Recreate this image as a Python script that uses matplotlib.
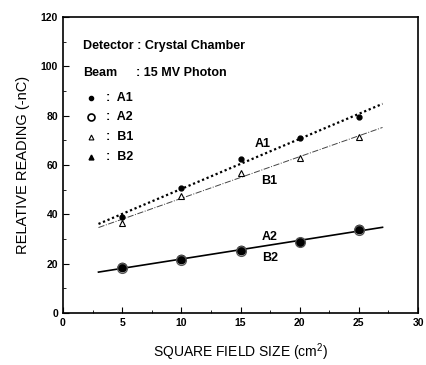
import numpy as np
import matplotlib
matplotlib.use("Agg")
import matplotlib.pyplot as plt
from matplotlib.ticker import MultipleLocator

plt.rcParams['font.family'] = ['Liberation Sans', 'DejaVu Sans']
plt.rcParams['mathtext.default'] = 'regular'

field = [5, 10, 15, 20, 25]
a1 = [39.0, 50.6, 62.3, 70.9, 79.6]
b1 = [36.6, 47.5, 56.6, 62.9, 71.2]
a2 = [18.4, 21.6, 25.3, 28.7, 33.8]
b2 = [18.6, 21.9, 25.5, 28.9, 34.0]
fit_range = [3, 27]

fig = plt.figure(figsize=(4.27, 3.65), dpi=100)
ax = fig.add_axes([0.1475, 0.1425, 0.8315, 0.8105])

xs = np.array(fit_range)
pa1 = np.polyfit(field, a1, 1)
pb1 = np.polyfit(field, b1, 1)
pa2 = np.polyfit(field + field, a2 + b2, 1)
ax.plot(xs, np.polyval(pa1, xs), color='black', ls=(0, (1, 1.2)), lw=1.6)
ax.plot(xs, np.polyval(pb1, xs), color='#444444', ls='-.', lw=0.7)
ax.plot(xs, np.polyval(pa2, xs), color='black', ls='-', lw=1.2)

ax.plot(field, a1, 'o', color='black', ms=3.5)
ax.plot(field, b1, '^', mfc='white', mec='black', ms=4, mew=0.8)
ax.plot(field, b2, 'o', color='black', ms=6)
ax.plot(field, a2, 'o', mfc='none', mec='#555555', ms=7, mew=1.0)

ax.set_xlim(0, 30)
ax.set_ylim(0, 120)
ax.xaxis.set_major_locator(MultipleLocator(5))
ax.xaxis.set_minor_locator(MultipleLocator(2.5))
ax.yaxis.set_major_locator(MultipleLocator(20))
ax.yaxis.set_minor_locator(MultipleLocator(10))
ax.tick_params(which='both', direction='in', top=False, right=False)
ax.tick_params(which='major', length=4, labelsize=7.5)
ax.tick_params(which='minor', length=2)
for lab in ax.get_xticklabels() + ax.get_yticklabels():
    lab.set_fontweight('bold')
for s in ax.spines.values():
    s.set_linewidth(1.2)

ax.set_xlabel('SQUARE FIELD SIZE (cm$^2$)', fontsize=10, labelpad=10)
ax.set_ylabel('RELATIVE READING (-nC)', fontsize=10.5, labelpad=8)

tkw = dict(fontsize=9, fontweight='bold', va='center')
ax.text(1.7, 108.5, 'Detector : Crystal Chamber', **tkw)
ax.text(1.7, 97.3, 'Beam', **tkw)
ax.text(6.2, 97.3, ': 15 MV Photon', **tkw)
legend_y = [87.4, 79.4, 71.3, 63.2]
legend_names = ['A1', 'A2', 'B1', 'B2']
ax.plot(2.4, legend_y[0], 'o', color='black', ms=3)
ax.plot(2.4, legend_y[1], 'o', mfc='white', mec='black', ms=5, mew=1.2)
ax.plot(2.4, legend_y[2], '^', mfc='white', mec='black', ms=3.5, mew=0.8)
ax.plot(2.4, legend_y[3], '^', color='black', ms=3.5)
for yy, nm in zip(legend_y, legend_names):
    ax.text(3.6, yy, ':  ' + nm, **tkw)

ax.text(16.2, 68.5, 'A1', **tkw)
ax.text(16.7, 53.4, 'B1', **tkw)
ax.text(16.8, 31.0, 'A2', **tkw)
ax.text(16.8, 22.3, 'B2', **tkw)

fig.savefig('out.png', dpi=100)
